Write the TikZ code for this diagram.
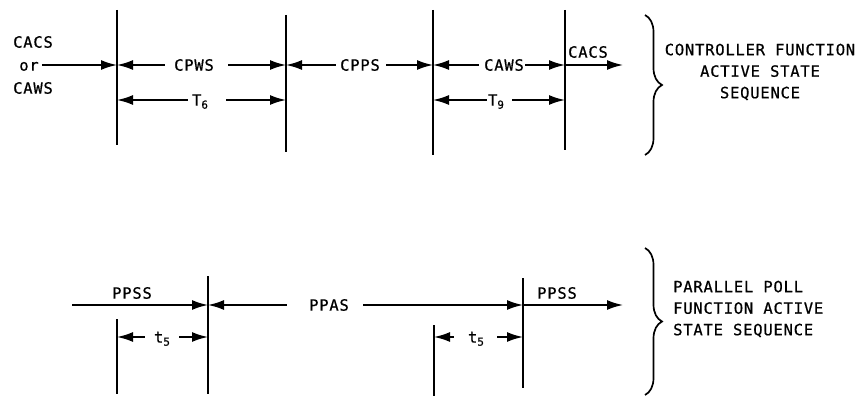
\documentclass[tikz,border=0pt]{standalone}
\usepackage{fontspec}
\setmainfont{DejaVu Sans Mono}[LetterSpace=5,UprightFeatures={FakeBold=0.7}]
\newcommand{\sbs}[1]{\raisebox{-3pt}{\fontsize{11}{11}\selectfont #1}}
\usetikzlibrary{arrows.meta,decorations.pathreplacing}
\begin{document}
\begin{tikzpicture}[x=1pt,y=-1pt,
  vline/.style={line width=1.8pt},
  arr/.style={line width=1.8pt,-{Latex[length=16pt,width=10pt]}},
  lbl/.style={inner sep=0pt,text height=11.3pt,text depth=0pt,font=\fontsize{15.5}{21}\selectfont},
  note/.style={inner sep=0pt,font=\fontsize{15.5}{21.5}\selectfont},
  brc/.style={line width=1.7pt,decorate,decoration={brace,amplitude=17pt}}]
\useasboundingbox (0,0) rectangle (862,396);

% ---------- top: controller function ----------
\coordinate (v1t) at (117,10);  \coordinate (v1b) at (117,145);
\coordinate (v2t) at (286,15);  \coordinate (v2b) at (286,152);
\coordinate (v3t) at (433,10);  \coordinate (v3b) at (433,155);
\coordinate (v4t) at (565,10);  \coordinate (v4b) at (565,150);
\draw[vline] (v1t) -- (v1b);
\draw[vline] (v2t) -- (v2b);
\draw[vline] (v3t) -- (v3b);
\draw[vline] (v4t) -- (v4b);

\coordinate (p1) at (117,65);
\coordinate (p2) at (286,65);
\coordinate (p3) at (433,65);
\coordinate (p4) at (565,65);
\coordinate (p5) at (623,65);
\coordinate (q1) at (117,100);
\coordinate (q2) at (286,100);
\coordinate (q3) at (433,100);
\coordinate (q4) at (565,100);

\node[lbl] (cacsA) at (33,42) {CACS};
\node[lbl] (orA)   at (29,65) {or};
\node[lbl] (cawsA) at (33,88) {CAWS};
\draw[arr] ([xshift=3pt]orA.east) -- (p1);

\node[lbl] (cpws) at (194,65) {CPWS};
\draw[arr] ([xshift=-9pt]cpws.west) -- (p1);
\draw[arr] ([xshift=14pt]cpws.east) -- (p2);

\node[lbl] (cpps) at (360,65) {CPPS};
\draw[arr] ([xshift=-4pt]cpps.west) -- (p2);
\draw[arr] ([xshift=6pt]cpps.east) -- (p3);

\node[lbl] (caws) at (504,65) {CAWS};
\draw[arr] ([xshift=-5pt]caws.west) -- (p3);
\draw[arr] ([xshift=1pt]caws.east) -- (p4);

\node[lbl] (cacsB) at (588,52) {CACS};
\draw[arr] (p4) -- (p5);

\node[lbl] (tsix) at (200,100) {T\sbs{6}};
\draw[arr] ([xshift=-4pt]tsix.west) -- (q1);
\draw[arr] ([xshift=18pt]tsix.east) -- (q2);

\node[lbl] (tnine) at (496,100) {T\sbs{9}};
\draw[arr] ([xshift=-1pt]tnine.west) -- (q3);
\draw[arr] ([xshift=8pt]tnine.east) -- (q4);

\draw[brc] (645,15) coordinate (b1t) -- (645,155) coordinate (b1b);
\node[note,align=center] (ctrl) at (760,72) {CONTROLLER FUNCTION\\ACTIVE STATE\\SEQUENCE};

% ---------- bottom: parallel poll ----------
\coordinate (w0t) at (117,319); \coordinate (w0b) at (117,394);
\coordinate (w1t) at (208,276); \coordinate (w1b) at (208,394);
\coordinate (w2t) at (434,325); \coordinate (w2b) at (434,396);
\coordinate (w3t) at (523,278); \coordinate (w3b) at (523,388);
\draw[vline] (w0t) -- (w0b);
\draw[vline] (w1t) -- (w1b);
\draw[vline] (w2t) -- (w2b);
\draw[vline] (w3t) -- (w3b);

\coordinate (r0) at (72,305);
\coordinate (r1) at (208,305);
\coordinate (r3) at (523,305);
\coordinate (r4) at (623,305);
\coordinate (s0) at (117,337);
\coordinate (s1) at (208,337);
\coordinate (s2) at (434,337);
\coordinate (s3) at (523,337);

\node[lbl] (ppssA) at (132,293) {PPSS};
\draw[arr] (r0) -- (r1);

\node[lbl] (ppas) at (329,305) {PPAS};
\draw[arr] ([xshift=-22pt]ppas.west) -- (r1);
\draw[arr] ([xshift=14pt]ppas.east) -- (r3);

\node[lbl] (ppssB) at (557,293) {PPSS};
\draw[arr] (r3) -- (r4);

\node[lbl] (tfiveA) at (162,337) {t\sbs{5}};
\draw[arr] ([xshift=-9pt]tfiveA.west) -- (s0);
\draw[arr] ([xshift=9pt]tfiveA.east) -- (s1);

\node[lbl] (tfiveB) at (476,337) {t\sbs{5}};
\draw[arr] ([xshift=-14pt]tfiveB.west) -- (s2);
\draw[arr] ([xshift=13pt]tfiveB.east) -- (s3);

\draw[brc] (645,248) coordinate (b2t) -- (645,395) coordinate (b2b);
\node[note,align=left,anchor=west] (ppoll) at (673,309) {PARALLEL POLL\\FUNCTION ACTIVE\\STATE SEQUENCE};
\end{tikzpicture}
\end{document}
